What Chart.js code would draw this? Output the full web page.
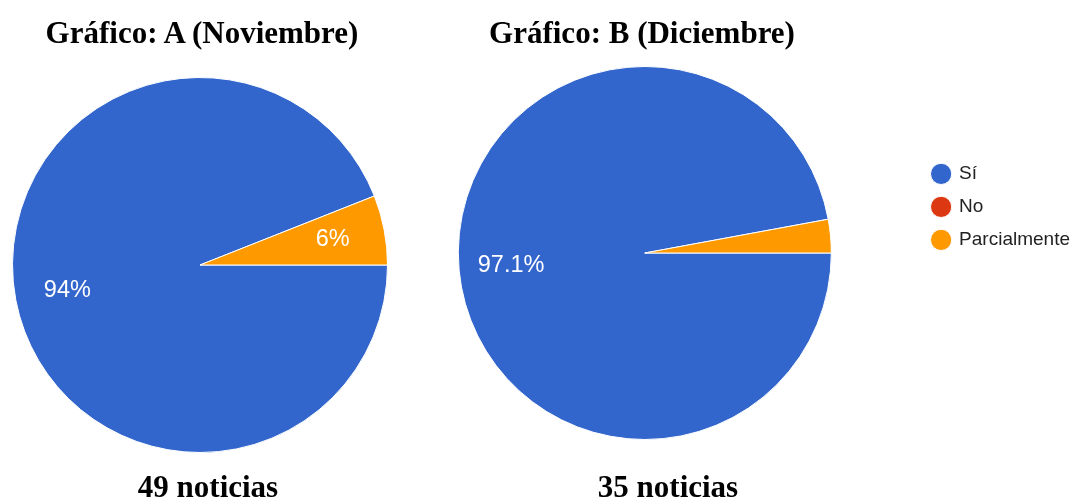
<!DOCTYPE html>
<html lang="es">
<head>
  <meta charset="UTF-8">
  <title>Gráfico A y B</title>
  <script src="https://cdn.jsdelivr.net/npm/chart.js"></script>
  <style>
    body { margin: 0; background: #fff; width: 1080px; height: 499px; position: relative; overflow: hidden; }
    .titulo {
      position: absolute;
      font-family: "Liberation Serif", "Times New Roman", serif;
      font-weight: bold;
      font-size: 31px;
      line-height: 31px;
      color: #000;
      text-align: center;
      white-space: nowrap;
    }
    canvas { position: absolute; top: 0; }
  </style>
</head>
<body>
  <canvas id="chartA" width="400" height="499" style="left:0"></canvas>
  <canvas id="chartB" width="709" height="499" style="left:371px"></canvas>

  <div class="titulo" style="left:0; width:404px; top:17px">Gráfico: A (Noviembre)</div>
  <div class="titulo" style="left:440px; width:404px; top:17px">Gráfico: B (Diciembre)</div>
  <div class="titulo" style="left:0; width:416px; top:471px">49 noticias</div>
  <div class="titulo" style="left:460px; width:416px; top:471px">35 noticias</div>

  <script>
    // categorias y valores (porcentajes)
    const categorias = ['Sí', 'No', 'Parcialmente'];
    const valoresNoviembre = [94, 0, 6];
    const valoresDiciembre = [97.1, 0, 2.9];
    const colores = ['#3366CC', '#DC3912', '#FF9900'];

    // etiquetas de porcentaje dentro de cada porcion
    const etiquetasPorcentaje = {
      id: 'etiquetasPorcentaje',
      afterDatasetsDraw(chart) {
        const ctx = chart.ctx;
        const datos = chart.data.datasets[0].data;
        const total = datos.reduce((a, b) => a + b, 0);
        const meta = chart.getDatasetMeta(0);
        ctx.save();
        ctx.fillStyle = '#ffffff';
        ctx.font = '23.5px "Liberation Sans", Arial, sans-serif';
        ctx.textAlign = 'center';
        ctx.textBaseline = 'middle';
        meta.data.forEach((arc, i) => {
          const pct = datos[i] / total * 100;
          if (pct < 5) return;
          const p = arc.getProps(['x', 'y', 'startAngle', 'endAngle', 'outerRadius'], true);
          const mid = (p.startAngle + p.endAngle) / 2;
          const r = p.outerRadius * 0.72;
          const texto = (Math.round(pct * 10) / 10) + '%';
          ctx.fillText(texto, p.x + Math.cos(mid) * r, p.y + Math.sin(mid) * r);
        });
        ctx.restore();
      }
    };

    function opciones(padding, conLeyenda) {
      return {
        responsive: false,
        animation: false,
        rotation: 90,
        layout: { padding: padding },
        plugins: {
          legend: {
            display: conLeyenda,
            position: 'right',
            align: 'start',
            title: { display: conLeyenda, text: '', padding: { top: 70, bottom: 0 } },
            labels: {
              usePointStyle: true,
              pointStyle: 'circle',
              boxWidth: 17,
              boxHeight: 15,
              padding: 14,
              color: '#222',
              font: { family: '"Liberation Sans", Arial, sans-serif', size: 19 }
            }
          },
          tooltip: { enabled: false }
        }
      };
    }

    new Chart(document.getElementById('chartA'), {
      type: 'pie',
      data: {
        labels: categorias,
        datasets: [{
          data: valoresNoviembre,
          backgroundColor: colores,
          borderColor: '#ffffff',
          borderWidth: 1,
          hoverOffset: 0
        }]
      },
      options: opciones({ top: 77, bottom: 46, left: 12, right: 12 }, false),
      plugins: [etiquetasPorcentaje]
    });

    new Chart(document.getElementById('chartB'), {
      type: 'pie',
      data: {
        labels: categorias,
        datasets: [{
          data: valoresDiciembre,
          backgroundColor: colores,
          borderColor: '#ffffff',
          borderWidth: 1,
          hoverOffset: 0
        }]
      },
      options: opciones({ top: 66, bottom: 59, left: 0, right: 0 }, true),
      plugins: [etiquetasPorcentaje]
    });
  </script>
</body>
</html>
